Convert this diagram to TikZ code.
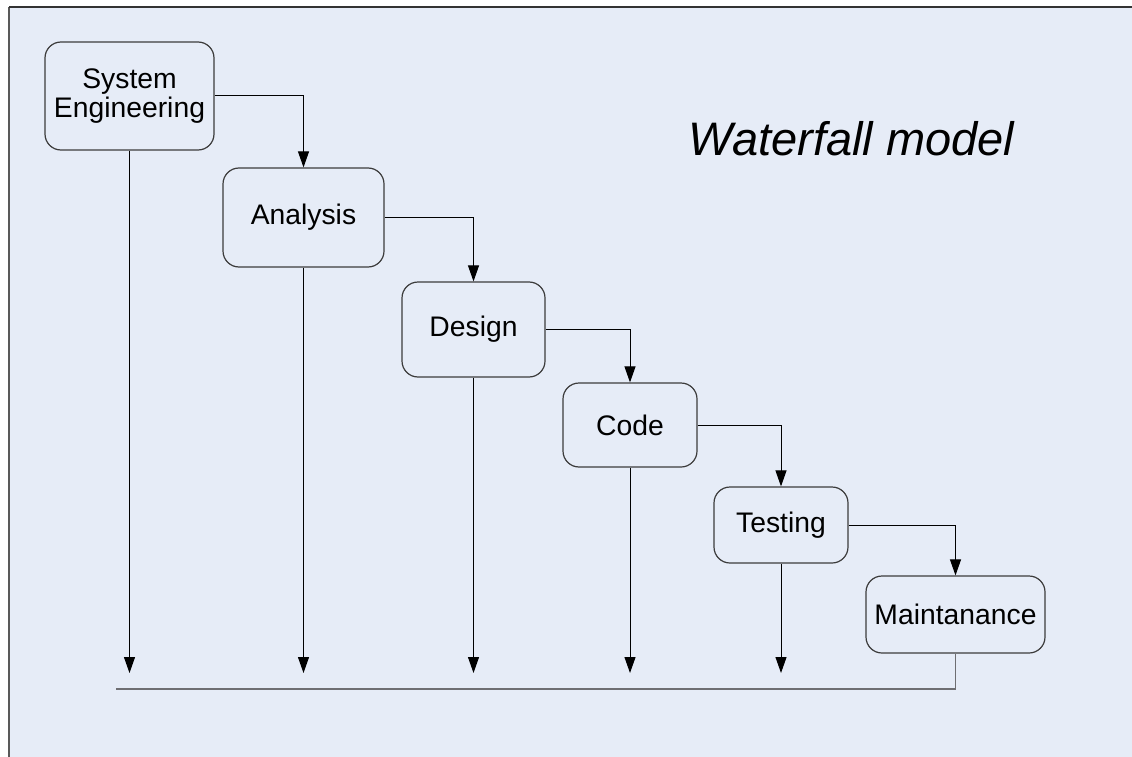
\documentclass[tikz,border=0pt]{standalone}
\usepackage{fontspec}
\setmainfont{Liberation Sans}
\usetikzlibrary{arrows.meta}
\definecolor{panel}{HTML}{E6ECF7}
\definecolor{boxline}{HTML}{3C3C3C}
\definecolor{busline}{HTML}{6E6E72}
\tikzset{
  stage/.style={draw=boxline, line width=1.2pt, rectangle, rounded corners=16pt,
    align=center, inner sep=0pt,
    font=\fontsize{28.3}{29.5}\selectfont},
  flow/.style={draw=black, line width=1pt, -{Triangle[length=16pt,width=11pt]}},
  bus/.style={draw=busline, line width=1.6pt}
}
\begin{document}
\begin{tikzpicture}[x=1pt,y=-1pt]
  \useasboundingbox (0,0) rectangle (1132,757);
  % panel with its left and top edges
  \fill[panel] (9,7) rectangle (1132,757);
  \draw[draw=gray!70!black, line width=1.5pt] (9,757) -- (9,7);
  \draw[draw=black!80, line width=2pt] (9,7) -- (1132,7);

  % stages
  \node[stage, minimum width=169pt, minimum height=108pt] (se) at (129.5,96) {System\\Engineering};
  \node[stage, minimum width=161pt, minimum height=99pt] (an) at (303.5,217.5) {Analysis};
  \node[stage, minimum width=143pt, minimum height=95pt] (de) at (473.5,329.5) {Design};
  \node[stage, minimum width=134pt, minimum height=84pt] (co) at (630,425) {Code};
  \node[stage, minimum width=134pt, minimum height=76pt] (te) at (781,525) {Testing};
  \node[stage, minimum width=179pt, minimum height=77pt] (ma) at (955.5,614.5) {Maintanance};

  \node[anchor=base, font=\itshape\fontsize{47}{50}\selectfont] (title) at (851.5,156) {Waterfall model};

  % step-to-step links
  \draw[flow] (se.east) -| (an.north);
  \draw[flow] (an.east) -| (de.north);
  \draw[flow] (de.east) -| (co.north);
  \draw[flow] (co.east) -| (te.north);
  \draw[flow] (te.east) -| (ma.north);

  % drops towards the return line
  \coordinate (d1) at (129.5,673);
  \coordinate (d2) at (303.5,673);
  \coordinate (d3) at (473.5,673);
  \coordinate (d4) at (630,673);
  \coordinate (d5) at (781,673);
  \draw[flow] (se.south) -- (d1);
  \draw[flow] (an.south) -- (d2);
  \draw[flow] (de.south) -- (d3);
  \draw[flow] (co.south) -- (d4);
  \draw[flow] (te.south) -- (d5);

  % return line
  \coordinate (busend) at (116,689);
  \draw[bus] (ma.south) |- (busend);
\end{tikzpicture}
\end{document}
